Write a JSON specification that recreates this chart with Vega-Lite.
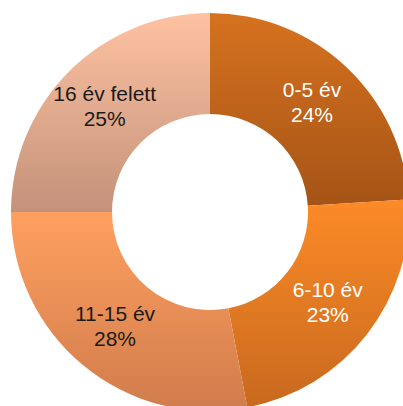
{
  "$schema": "https://vega.github.io/schema/vega-lite/v6.json",
  "width": 420,
  "height": 424,
  "padding": 0,
  "autosize": {"type": "none"},
  "background": "white",
  "view": {"stroke": null},
  "data": {
    "values": [
      {"group": "0-5 év", "pct": "24%", "value": 24, "order": 1},
      {"group": "6-10 év", "pct": "23%", "value": 23, "order": 2},
      {"group": "11-15 év", "pct": "28%", "value": 28, "order": 3},
      {"group": "16 év felett", "pct": "25%", "value": 25, "order": 4}
    ]
  },
  "layer": [
    {
      "layer": [
        {
          "transform": [{"filter": "datum.group === '0-5 év'"}],
          "mark": {"type": "arc", "radius": 199, "radius2": 98, "fill": {"gradient": "linear", "x1": 0, "y1": 0, "x2": 0, "y2": 1, "stops": [{"offset": 0, "color": "#D6721F"}, {"offset": 1, "color": "#A55416"}]}}
        },
        {
          "transform": [{"filter": "datum.group === '6-10 év'"}],
          "mark": {"type": "arc", "radius": 199, "radius2": 98, "fill": {"gradient": "linear", "x1": 0, "y1": 0, "x2": 0, "y2": 1, "stops": [{"offset": 0, "color": "#FC8B27"}, {"offset": 1, "color": "#C8691E"}]}}
        },
        {
          "transform": [{"filter": "datum.group === '11-15 év'"}],
          "mark": {"type": "arc", "radius": 199, "radius2": 98, "fill": {"gradient": "linear", "x1": 0, "y1": 0, "x2": 0, "y2": 1, "stops": [{"offset": 0, "color": "#FFA060"}, {"offset": 1, "color": "#D07C4C"}]}}
        },
        {
          "transform": [{"filter": "datum.group === '16 év felett'"}],
          "mark": {"type": "arc", "radius": 199, "radius2": 98, "fill": {"gradient": "linear", "x1": 0, "y1": 0, "x2": 0, "y2": 1, "stops": [{"offset": 0, "color": "#FEC2A2"}, {"offset": 1, "color": "#C3927A"}]}}
        }
      ],
      "transform": [
        {"stack": "value", "groupby": [], "sort": [{"field": "order", "order": "ascending"}], "as": ["v0", "v1"]}
      ],
      "encoding": {
        "theta": {"field": "v0", "type": "quantitative", "scale": {"domain": [0, 100]}},
        "theta2": {"field": "v1"}
      }
    },
    {
      "mark": {"type": "text", "radius": 149, "dy": -12, "font": "Liberation Sans", "fontSize": 21, "baseline": "middle", "align": "center"},
      "encoding": {
        "theta": {"field": "value", "type": "quantitative", "stack": true},
        "order": {"field": "order", "type": "quantitative"},
        "text": {"field": "group"},
        "color": {"field": "group", "type": "nominal", "legend": null, "scale": {"domain": ["0-5 év", "6-10 év", "11-15 év", "16 év felett"], "range": ["#ffffff", "#ffffff", "#1a1a1a", "#1a1a1a"]}}
      }
    },
    {
      "mark": {"type": "text", "radius": 149, "dy": 13, "font": "Liberation Sans", "fontSize": 21, "baseline": "middle", "align": "center"},
      "encoding": {
        "theta": {"field": "value", "type": "quantitative", "stack": true},
        "order": {"field": "order", "type": "quantitative"},
        "text": {"field": "pct"},
        "color": {"field": "group", "type": "nominal", "legend": null, "scale": {"domain": ["0-5 év", "6-10 év", "11-15 év", "16 év felett"], "range": ["#ffffff", "#ffffff", "#1a1a1a", "#1a1a1a"]}}
      }
    }
  ]
}
